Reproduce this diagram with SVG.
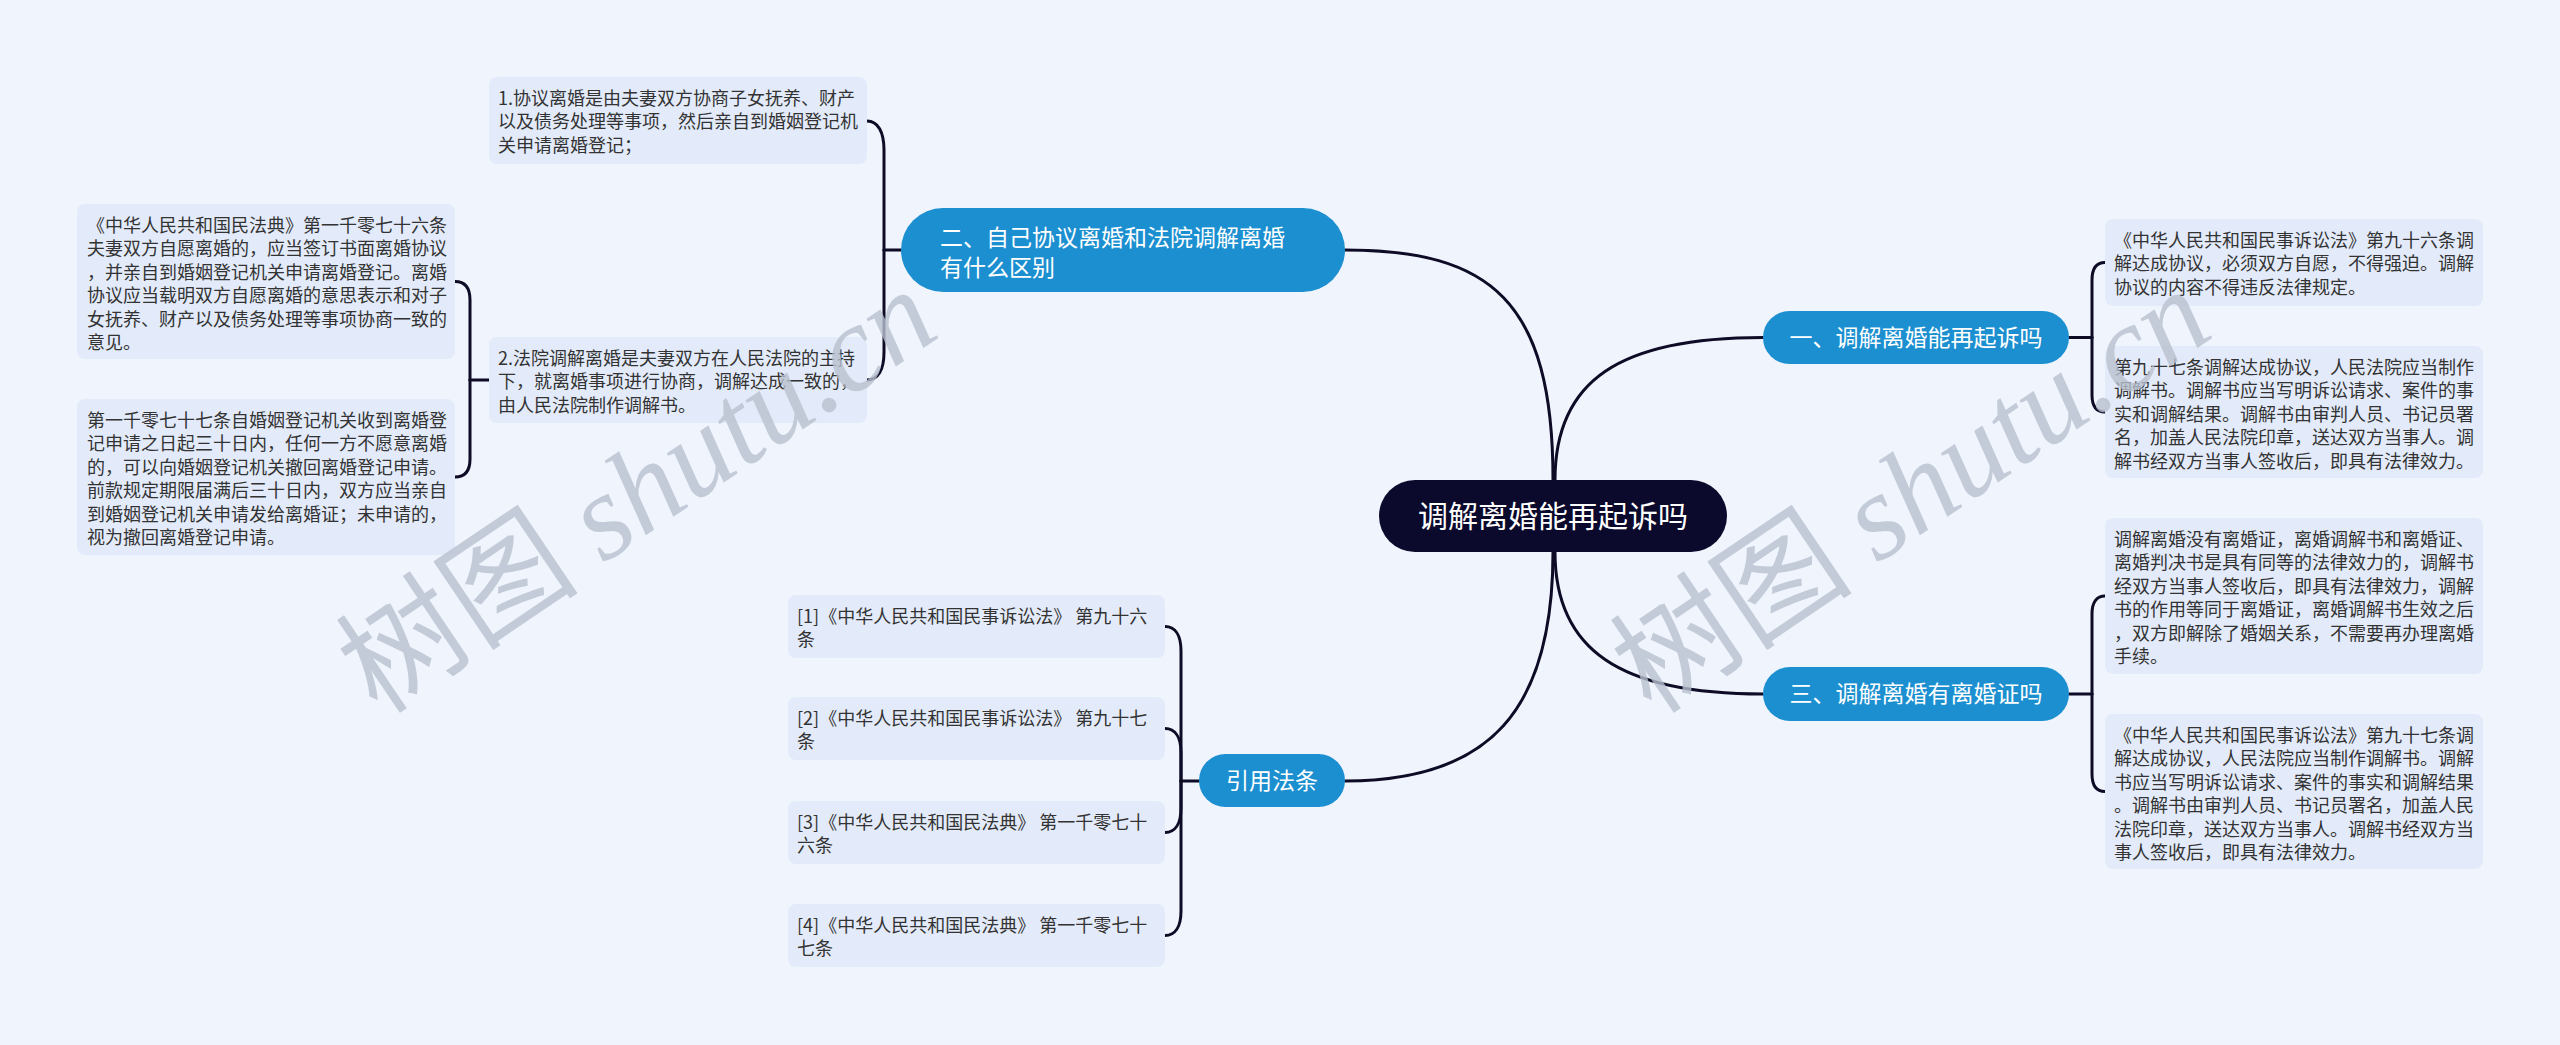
<svg xmlns="http://www.w3.org/2000/svg" width="2560" height="1045" viewBox="0 0 2560 1045">
<style>
.bg{fill:#EFF4FD}
.leaf rect{fill:#E3EBFA}
.leaf text{font-family:"Noto Sans CJK SC","Noto Sans",sans-serif;font-size:18px;fill:#333333}
.branch rect{fill:#1C8FD0}
.branch text{font-family:"Noto Sans CJK SC","Noto Sans",sans-serif;font-size:23px;fill:#FFFFFF}
.root rect{fill:#0B0A2C}
.root text{font-family:"Noto Sans CJK SC","Noto Sans",sans-serif;font-size:30px;fill:#FFFFFF}
.conn path{fill:none;stroke:#0D0B26;stroke-width:3;stroke-linecap:round}
.wm{font-family:"Noto Sans CJK SC",serif;font-size:122px;fill:#B9C1CF;opacity:0.8}
.wm tspan{font-family:"Liberation Serif",serif;font-style:italic}
</style>
<rect class="bg" x="0" y="0" width="2560" height="1045"/>

<g id="connectors" class="conn">
<path d="M1553,480 C1553,300 1490,250 1345,250"/>
<path d="M1555,480 C1555,380 1620,337.5 1763,337.5"/>
<path d="M1555,552 C1555,650 1620,694 1763,694"/>
<path d="M1553,552 C1553,710 1490,781 1345,781"/>
<path d="M901,250 H884"/>
<path d="M884,250 V150 C884,132 878,121 867,121"/>
<path d="M884,250 V352 C884,370 878,380 867,380"/>
<path d="M489,380 H470"/>
<path d="M470,380 V300 C470,288 465,281.5 455,281.5"/>
<path d="M470,380 V459 C470,471 465,477 455,477"/>
<path d="M2069,337.5 H2092"/>
<path d="M2092,337.5 V280 C2092,268 2097,262.5 2105,262.5"/>
<path d="M2092,337.5 V395 C2092,407 2097,412 2105,412"/>
<path d="M2069,694 H2092"/>
<path d="M2092,694 V614 C2092,602 2097,596 2105,596"/>
<path d="M2092,694 V774 C2092,786 2097,791.5 2105,791.5"/>
<path d="M1199,781 H1181"/>
<path d="M1181,781 V651 C1181,635 1175,626.5 1165,626.5"/>
<path d="M1181,781 V753 C1181,737 1175,728.5 1165,728.5"/>
<path d="M1181,781 V808 C1181,824 1175,832.5 1165,832.5"/>
<path d="M1181,781 V911 C1181,927 1175,935.5 1165,935.5"/>
</g>

<g id="root" class="root">
<rect x="1379" y="480" width="348" height="72" rx="36"/>
<text x="1553" y="527" text-anchor="middle">调解离婚能再起诉吗</text>
</g>

<g id="branch1" class="branch">
<rect x="1763" y="311" width="306" height="53" rx="26.5"/>
<text x="1916" y="346" text-anchor="middle">一、调解离婚能再起诉吗</text>
</g>
<g id="branch2" class="branch">
<rect x="901" y="208" width="444" height="84" rx="42"/>
<text x="940" y="246">二、自己协议离婚和法院调解离婚</text>
<text x="940" y="276">有什么区别</text>
</g>
<g id="branch3" class="branch">
<rect x="1763" y="667" width="306" height="54" rx="27"/>
<text x="1916" y="702" text-anchor="middle">三、调解离婚有离婚证吗</text>
</g>
<g id="branch4" class="branch">
<rect x="1199" y="754" width="146" height="53" rx="26.5"/>
<text x="1272" y="789" text-anchor="middle">引用法条</text>
</g>

<g id="leaf-2-1" class="leaf">
<rect x="489" y="77" width="378" height="87" rx="8"/>
<text><tspan x="498" y="105">1.协议离婚是由夫妻双方协商子女抚养、财产</tspan><tspan x="498" y="128.4">以及债务处理等事项，然后亲自到婚姻登记机</tspan><tspan x="498" y="151.8">关申请离婚登记；</tspan></text>
</g>
<g id="leaf-2-2" class="leaf">
<rect x="489" y="337" width="378" height="86" rx="8"/>
<text><tspan x="498" y="365">2.法院调解离婚是夫妻双方在人民法院的主持</tspan><tspan x="498" y="388.4">下，就离婚事项进行协商，调解达成一致的，</tspan><tspan x="498" y="411.8">由人民法院制作调解书。</tspan></text>
</g>
<g id="leaf-2-2-1" class="leaf">
<rect x="77" y="204" width="378" height="155" rx="8"/>
<text><tspan x="87" y="232">《中华人民共和国民法典》第一千零七十六条</tspan><tspan x="87" y="255.4">夫妻双方自愿离婚的，应当签订书面离婚协议</tspan><tspan x="87" y="278.8">，并亲自到婚姻登记机关申请离婚登记。离婚</tspan><tspan x="87" y="302.2">协议应当载明双方自愿离婚的意思表示和对子</tspan><tspan x="87" y="325.6">女抚养、财产以及债务处理等事项协商一致的</tspan><tspan x="87" y="349">意见。</tspan></text>
</g>
<g id="leaf-2-2-2" class="leaf">
<rect x="77" y="399" width="378" height="156" rx="8"/>
<text><tspan x="87" y="427">第一千零七十七条自婚姻登记机关收到离婚登</tspan><tspan x="87" y="450.4">记申请之日起三十日内，任何一方不愿意离婚</tspan><tspan x="87" y="473.8">的，可以向婚姻登记机关撤回离婚登记申请。</tspan><tspan x="87" y="497.2">前款规定期限届满后三十日内，双方应当亲自</tspan><tspan x="87" y="520.6">到婚姻登记机关申请发给离婚证；未申请的，</tspan><tspan x="87" y="544">视为撤回离婚登记申请。</tspan></text>
</g>
<g id="leaf-1-1" class="leaf">
<rect x="2105" y="219" width="378" height="87" rx="8"/>
<text><tspan x="2114" y="247">《中华人民共和国民事诉讼法》第九十六条调</tspan><tspan x="2114" y="270.4">解达成协议，必须双方自愿，不得强迫。调解</tspan><tspan x="2114" y="293.8">协议的内容不得违反法律规定。</tspan></text>
</g>
<g id="leaf-1-2" class="leaf">
<rect x="2105" y="346" width="378" height="132" rx="8"/>
<text><tspan x="2114" y="374">第九十七条调解达成协议，人民法院应当制作</tspan><tspan x="2114" y="397.4">调解书。调解书应当写明诉讼请求、案件的事</tspan><tspan x="2114" y="420.8">实和调解结果。调解书由审判人员、书记员署</tspan><tspan x="2114" y="444.2">名，加盖人民法院印章，送达双方当事人。调</tspan><tspan x="2114" y="467.6">解书经双方当事人签收后，即具有法律效力。</tspan></text>
</g>
<g id="leaf-3-1" class="leaf">
<rect x="2105" y="518" width="378" height="156" rx="8"/>
<text><tspan x="2114" y="546">调解离婚没有离婚证，离婚调解书和离婚证、</tspan><tspan x="2114" y="569.4">离婚判决书是具有同等的法律效力的，调解书</tspan><tspan x="2114" y="592.8">经双方当事人签收后，即具有法律效力，调解</tspan><tspan x="2114" y="616.2">书的作用等同于离婚证，离婚调解书生效之后</tspan><tspan x="2114" y="639.6">，双方即解除了婚姻关系，不需要再办理离婚</tspan><tspan x="2114" y="663">手续。</tspan></text>
</g>
<g id="leaf-3-2" class="leaf">
<rect x="2105" y="714" width="378" height="155" rx="8"/>
<text><tspan x="2114" y="742">《中华人民共和国民事诉讼法》第九十七条调</tspan><tspan x="2114" y="765.4">解达成协议，人民法院应当制作调解书。调解</tspan><tspan x="2114" y="788.8">书应当写明诉讼请求、案件的事实和调解结果</tspan><tspan x="2114" y="812.2">。调解书由审判人员、书记员署名，加盖人民</tspan><tspan x="2114" y="835.6">法院印章，送达双方当事人。调解书经双方当</tspan><tspan x="2114" y="859">事人签收后，即具有法律效力。</tspan></text>
</g>
<g id="cite-1" class="leaf">
<rect x="788" y="595" width="377" height="63" rx="8"/>
<text><tspan x="797" y="623">[1]《中华人民共和国民事诉讼法》 第九十六</tspan><tspan x="797" y="646.4">条</tspan></text>
</g>
<g id="cite-2" class="leaf">
<rect x="788" y="697" width="377" height="63" rx="8"/>
<text><tspan x="797" y="725">[2]《中华人民共和国民事诉讼法》 第九十七</tspan><tspan x="797" y="748.4">条</tspan></text>
</g>
<g id="cite-3" class="leaf">
<rect x="788" y="801" width="377" height="63" rx="8"/>
<text><tspan x="797" y="829">[3]《中华人民共和国民法典》 第一千零七十</tspan><tspan x="797" y="852.4">六条</tspan></text>
</g>
<g id="cite-4" class="leaf">
<rect x="788" y="904" width="377" height="63" rx="8"/>
<text><tspan x="797" y="932">[4]《中华人民共和国民法典》 第一千零七十</tspan><tspan x="797" y="955.4">七条</tspan></text>
</g>

<g id="watermarks">
<text class="wm" transform="translate(378,716) rotate(-34)">树图 <tspan>shutu.cn</tspan></text>
<text class="wm" transform="translate(1652,716) rotate(-34)">树图 <tspan>shutu.cn</tspan></text>
</g>
</svg>
